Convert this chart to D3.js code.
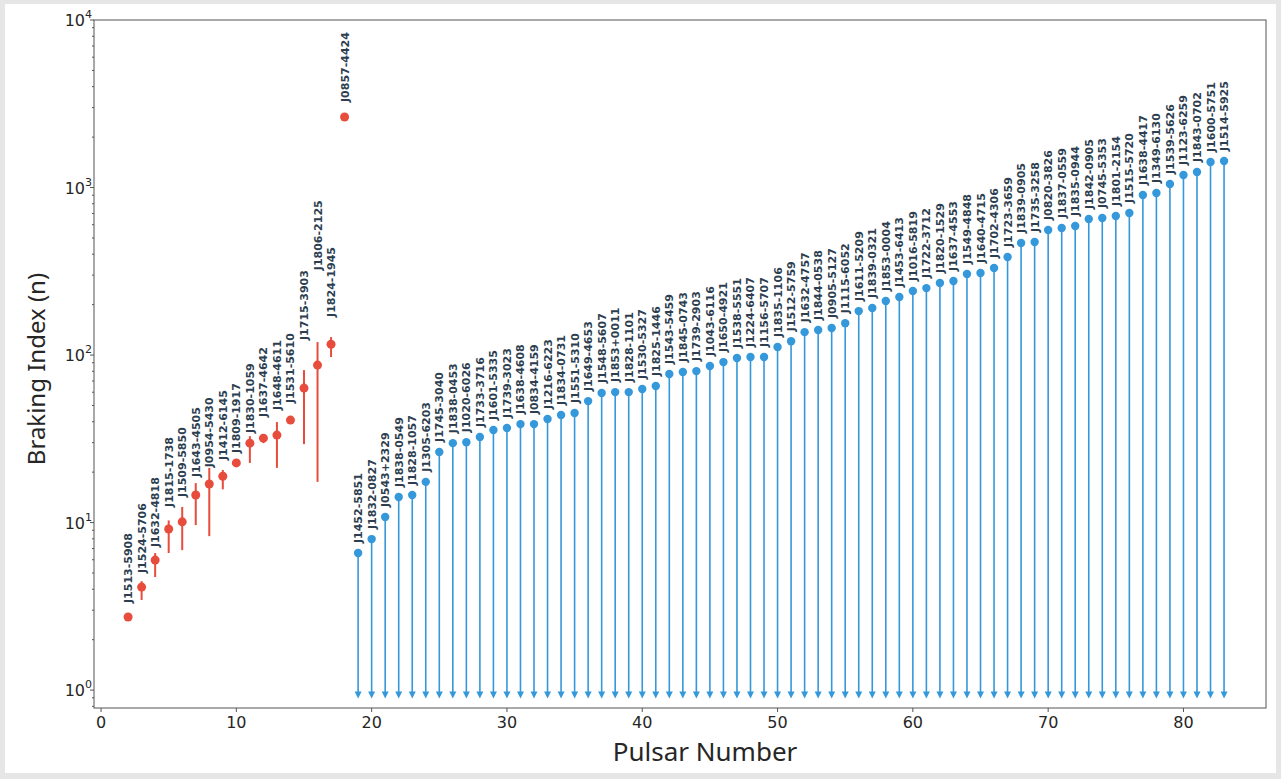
<!DOCTYPE html>
<html>
<head>
<meta charset="utf-8">
<script src="https://cdn.jsdelivr.net/npm/d3@7"></script>
<style>
  html, body { margin: 0; padding: 0; background: #e6e6e6; }
  svg { display: block; }
</style>
</head>
<body>
<svg id="chart" width="1281" height="779"></svg>
<script>
// measured pulsars (red, with error bars)
const redNames = ['J1513-5908', 'J1524-5706', 'J1632-4818', 'J1815-1738', 'J1509-5850', 'J1643-4505',
  'J0954-5430', 'J1412-6145', 'J1809-1917', 'J1830-1059', 'J1637-4642', 'J1648-4611', 'J1531-5610',
  'J1715-3903', 'J1806-2125', 'J1824-1945', 'J0857-4424']
const redNums = [2, 3, 4, 5, 6, 7, 8, 9, 10, 11, 12, 13, 14, 15, 16, 17, 18]
const redVals = [2.73, 4.12, 5.97, 9.15, 10.1, 14.6, 17.0, 18.9, 22.7, 29.8, 31.9, 33.3, 40.9, 63.5, 87.1, 116, 2636]
const redLo = [2.73, 3.45, 4.73, 6.58, 6.85, 9.66, 8.3, 15.8, 22.7, 22.7, 29.8, 21.2, 40.9, 29.4, 17.5, 97.3, 2636]
const redHi = [2.73, 4.47, 6.58, 10.3, 12.4, 17.2, 21.2, 20.6, 22.7, 32.8, 33.7, 39.8, 40.9, 81.3, 119.6, 128, 2636]
const redLabelAt = [3.31, 5.0, 7.14, 12.4, 14.2, 18.7, 21.4, 23.6, 26.0, 34.2, 42.7, 47, 51.7, 123, 321, 169, 3240]

// pulsars with only a lower limit (blue)
const blueNames = ['J1452-5851', 'J1832-0827', 'J0543+2329', 'J1838-0549', 'J1828-1057', 'J1305-6203',
  'J1745-3040', 'J1838-0453', 'J1020-6026', 'J1733-3716', 'J1601-5335', 'J1739-3023', 'J1638-4608',
  'J0834-4159', 'J1216-6223', 'J1834-0731', 'J1551-5310', 'J1649-4653', 'J1548-5607', 'J1853+0011',
  'J1828-1101', 'J1530-5327', 'J1825-1446', 'J1543-5459', 'J1845-0743', 'J1739-2903', 'J1043-6116',
  'J1650-4921', 'J1538-5551', 'J1224-6407', 'J1156-5707', 'J1835-1106', 'J1512-5759', 'J1632-4757',
  'J1844-0538', 'J0905-5127', 'J1115-6052', 'J1611-5209', 'J1839-0321', 'J1853-0004', 'J1453-6413',
  'J1016-5819', 'J1722-3712', 'J1820-1529', 'J1637-4553', 'J1549-4848', 'J1640-4715', 'J1702-4306',
  'J1723-3659', 'J1839-0905', 'J1735-3258', 'J0820-3826', 'J1837-0559', 'J1835-0944', 'J1842-0905',
  'J0745-5353', 'J1801-2154', 'J1515-5720', 'J1638-4417', 'J1349-6130', 'J1539-5626', 'J1123-6259',
  'J1843-0702', 'J1600-5751', 'J1514-5925']
const blueNums = [19, 20, 21, 22, 23, 24, 25, 26, 27, 28, 29, 30, 31, 32, 33, 34, 35, 36, 37, 38, 39, 40,
  41, 42, 43, 44, 45, 46, 47, 48, 49, 50, 51, 52, 53, 54, 55, 56, 57, 58, 59, 60, 61, 62, 63, 64, 65, 66,
  67, 68, 69, 70, 71, 72, 73, 74, 75, 76, 77, 78, 79, 80, 81, 82, 83]
const blueVals = [6.58, 7.97, 10.8, 14.2, 14.6, 17.5, 26.4, 29.8, 30.2, 32.4, 35.7, 36.7, 38.7, 38.7, 41.5,
  43.9, 45.1, 53.1, 59.3, 60.1, 60.1, 62.7, 65.3, 77.1, 79.2, 80.2, 86.0, 90.8, 96.0, 97.3, 97.3, 111.6,
  121, 137, 141, 145, 155, 183, 191, 210, 222, 241, 251, 269, 277, 305, 309, 331, 385, 467, 473, 558, 573,
  589, 649, 658, 676, 705, 902, 927, 1050, 1188, 1238, 1420, 1439]
const blueFloor = 0.93

const xTicks = [0, 10, 20, 30, 40, 50, 60, 70, 80]
const yTicks = [1, 10, 100, 1000, 10000]
const yExp = ['0', '1', '2', '3', '4']

const RED = '#e74c3c'
const BLUE = '#3498db'
const INK = '#262626'

const svg = d3.select('#chart')

// white canvas with thin grey frame
svg.append('rect')
  .attr('x', 5).attr('y', 4)
  .attr('width', 1271).attr('height', 769)
  .attr('fill', '#fff')

const pLeft = 94, pRight = 1266, pTop = 20, pBottom = 708

const x = d3.scaleLinear().domain([-0.52, 86.1]).range([pLeft, pRight])
const y = d3.scaleLog().domain([0.782, 10000]).range([pBottom, pTop])

const g = svg.append('g')

// frame
g.append('rect')
  .attr('x', pLeft).attr('y', pTop)
  .attr('width', pRight - pLeft).attr('height', pBottom - pTop)
  .attr('fill', 'none')
  .attr('stroke', '#555')
  .attr('stroke-width', 1)

// x axis ticks
xTicks.forEach(t => {
  g.append('line')
    .attr('x1', x(t)).attr('x2', x(t))
    .attr('y1', pBottom).attr('y2', pBottom + 4)
    .attr('stroke', '#555')
  g.append('text')
    .attr('x', x(t)).attr('y', pBottom + 20)
    .attr('text-anchor', 'middle')
    .attr('font-family', 'DejaVu Sans')
    .attr('font-size', 16)
    .attr('fill', INK)
    .text(t)
})

// y major + minor ticks
const minor = []
for (let e = -1; e < 4; e++)
  for (let m = 2; m <= 9; m++) {
    const v = m * Math.pow(10, e)
    if (v >= y.domain()[0] && v <= y.domain()[1]) minor.push(v)
  }
minor.forEach(v => {
  g.append('line')
    .attr('x1', pLeft - 2).attr('x2', pLeft)
    .attr('y1', y(v)).attr('y2', y(v))
    .attr('stroke', '#555')
})
yTicks.forEach((t, i) => {
  g.append('line')
    .attr('x1', pLeft - 4).attr('x2', pLeft)
    .attr('y1', y(t)).attr('y2', y(t))
    .attr('stroke', '#555')
  const lab = g.append('text')
    .attr('x', pLeft - 2).attr('y', y(t) + 6)
    .attr('text-anchor', 'end')
    .attr('font-family', 'DejaVu Sans')
    .attr('font-size', 16)
    .attr('fill', INK)
  lab.append('tspan').text('10')
  lab.append('tspan').attr('font-size', 11).attr('dy', -8).text(yExp[i])
})

// axis titles
svg.append('text')
  .attr('x', 705).attr('y', 761)
  .attr('text-anchor', 'middle')
  .attr('font-family', 'Noto Sans')
  .attr('font-size', 26)
  .attr('fill', INK)
  .text('Pulsar Number')

svg.append('text')
  .attr('transform', 'translate(45,369) rotate(-90)')
  .attr('text-anchor', 'middle')
  .attr('font-family', 'Noto Sans')
  .attr('font-size', 24)
  .attr('fill', INK)
  .text('Braking Index (n)')

// blue lower-limit stems with down arrows
blueNums.forEach((n, i) => {
  const cx = x(n), yb = y(blueFloor)
  g.append('line')
    .attr('x1', cx).attr('x2', cx)
    .attr('y1', y(blueVals[i])).attr('y2', yb - 2)
    .attr('stroke', BLUE)
    .attr('stroke-width', 1.6)
  g.append('path')
    .attr('d', `M${cx - 3.5},${yb - 4}L${cx + 3.5},${yb - 4}L${cx},${yb + 3}Z`)
    .attr('fill', BLUE)
  g.append('circle')
    .attr('cx', cx).attr('cy', y(blueVals[i]))
    .attr('r', 4.2)
    .attr('fill', BLUE)
  g.append('text')
    .attr('transform', `translate(${cx + 4},${y(blueVals[i]) - 10}) rotate(-90)`)
    .attr('font-family', 'DejaVu Sans')
    .attr('font-weight', 'bold')
    .attr('font-size', 11)
    .attr('fill', '#2c3e50')
    .text(blueNames[i])
})

// red measured points with error bars
redNums.forEach((n, i) => {
  const cx = x(n)
  if (redHi[i] > redLo[i])
    g.append('line')
      .attr('x1', cx).attr('x2', cx)
      .attr('y1', y(redLo[i])).attr('y2', y(redHi[i]))
      .attr('stroke', RED)
      .attr('stroke-width', 2)
  g.append('circle')
    .attr('cx', cx).attr('cy', y(redVals[i]))
    .attr('r', 4.5)
    .attr('fill', RED)
  g.append('text')
    .attr('transform', `translate(${cx + 4},${y(redLabelAt[i])}) rotate(-90)`)
    .attr('font-family', 'DejaVu Sans')
    .attr('font-weight', 'bold')
    .attr('font-size', 11)
    .attr('fill', '#2c3e50')
    .text(redNames[i])
})
</script>
</body>
</html>
